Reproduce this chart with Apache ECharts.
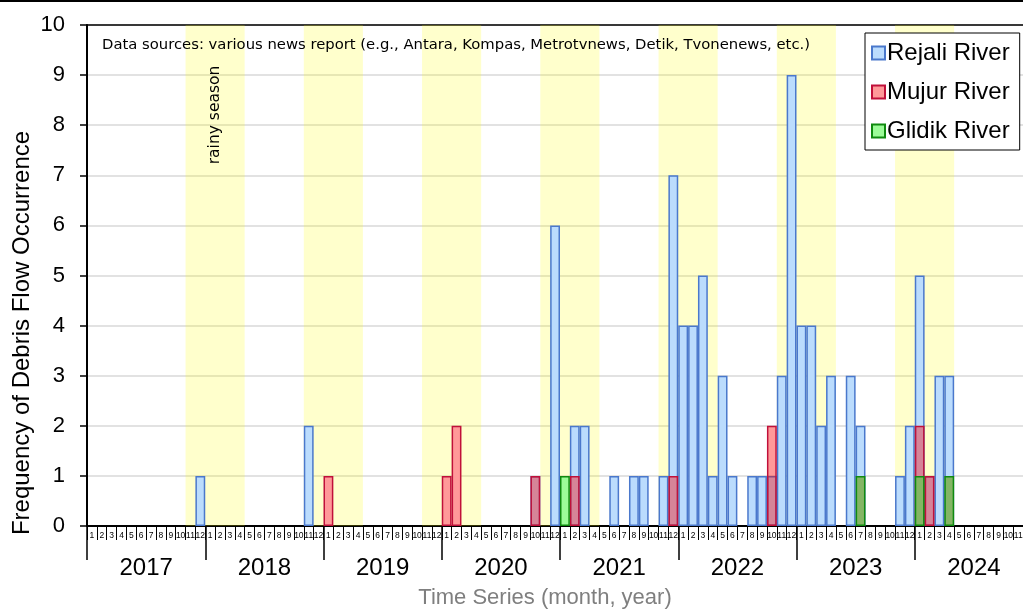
<!DOCTYPE html>
<html>
<head>
<meta charset="utf-8">
<script src="https://cdn.jsdelivr.net/npm/echarts@6/dist/echarts.min.js"></script>
<style>html,body{margin:0;padding:0;background:#fff}#c{width:1023px;height:610px}</style>
</head>
<body>
<div id="c"></div>
<script>
const monthLabels = ['1','2','3','4','5','6','7','8','9','10','11','12'];
const years = ['2017','2018','2019','2020','2021','2022','2023','2024'];
// Monthly counts Jan 2017 .. Dec 2024 (one row per year)
const rejali = [
  0,0,0,0,0,0,0,0,0,0,0,1,
  0,0,0,0,0,0,0,0,0,0,2,0,
  0,0,0,0,0,0,0,0,0,0,0,0,
  0,0,0,0,0,0,0,0,0,1,0,6,
  0,2,2,0,0,1,0,1,1,0,1,7,
  4,4,5,1,3,1,0,1,1,1,3,9,
  4,4,2,3,0,3,2,0,0,0,1,2,
  5,1,3,3,0,0,0,0,0,0,0,0
];
const mujur = [
  0,0,0,0,0,0,0,0,0,0,0,0,
  0,0,0,0,0,0,0,0,0,0,0,0,
  1,0,0,0,0,0,0,0,0,0,0,0,
  1,2,0,0,0,0,0,0,0,1,0,0,
  0,1,0,0,0,0,0,0,0,0,0,1,
  0,0,0,0,0,0,0,0,0,2,0,0,
  0,0,0,0,0,0,0,0,0,0,0,0,
  2,1,0,0,0,0,0,0,0,0,0,0
];
const glidik = [
  0,0,0,0,0,0,0,0,0,0,0,0,
  0,0,0,0,0,0,0,0,0,0,0,0,
  0,0,0,0,0,0,0,0,0,0,0,0,
  0,0,0,0,0,0,0,0,0,0,0,0,
  1,0,0,0,0,0,0,0,0,0,0,0,
  0,0,0,0,0,0,0,0,0,0,0,0,
  0,0,0,0,0,0,1,0,0,0,0,0,
  1,0,0,1,0,0,0,0,0,0,0,0
];
// rainy season bands (Nov..Apr) as [start month index, end month index)
const rainySeasons = [[10,16],[22,28],[34,40],[46,52],[58,64],[70,76],[82,88]];

const categories = [];
years.forEach(y => monthLabels.forEach(m => categories.push(m)));

const FONT = 'Liberation Sans, Arial, sans-serif';
const SFONT = 'DejaVu Sans, sans-serif';

const chart = echarts.init(document.getElementById('c'), null, {renderer:'canvas'});
const nz = v => v ? v : '-';

const option = {
  animation: false,
  backgroundColor: '#fff',
  grid: {left: 87, top: 25, width: 946, bottom: 84, containLabel: false, outerBoundsMode: 'none'},
  legend: {
    orient: 'vertical', left: 865, top: 33,
    backgroundColor: '#fff', borderColor: '#000', borderWidth: 1,
    padding: [8, 10, 7, 6], itemGap: 15, itemWidth: 13, itemHeight: 13,
    icon: 'rect',
    textStyle: {fontSize: 24, fontFamily: FONT, color: '#000', padding: [0,0,0,-3]},
    data: ['Rejali River', 'Mujur River', 'Glidik River']
  },
  xAxis: [
    {
      type: 'category', data: categories, gridIndex: 0, position: 'bottom', boundaryGap: true,
      axisLine: {show: true, lineStyle: {color: '#000', width: 2}},
      axisTick: {show: true, interval: 0, length: 14, lineStyle: {color: '#000', width: 1}},
      axisLabel: {interval: 0, fontSize: 8.5, margin: 5, color: '#000', fontFamily: FONT, hideOverlap: false},
      splitLine: {show: false}
    },
    {
      type: 'value', min: 0, max: 96, position: 'top', gridIndex: 0,
      axisLine: {show: true, onZero: false, lineStyle: {color: '#000', width: 1.5}},
      axisTick: {show: false}, axisLabel: {show: false}, splitLine: {show: false}
    },
    {
      type: 'category', data: years, position: 'bottom', gridIndex: 0, boundaryGap: true,
      axisLine: {show: false},
      axisTick: {show: true, interval: 0, length: 34, lineStyle: {color: '#000', width: 1.5}},
      axisLabel: {fontSize: 24, margin: 30, color: '#000', fontFamily: FONT}
    }
  ],
  yAxis: {
    type: 'value', min: 0, max: 10, interval: 1,
    axisLine: {show: true, lineStyle: {color: '#000', width: 2}},
    axisTick: {show: true, inside: false, length: 7, lineStyle: {color: '#000', width: 1.5}},
    axisLabel: {fontSize: 22, margin: 22, color: '#000', fontFamily: FONT},
    splitLine: {show: true, lineStyle: {color: '#d9d9d9', width: 1.5}}
  },
  series: [
    {
      type: 'line', xAxisIndex: 1, yAxisIndex: 0, data: [], z: 1, silent: true,
      markArea: {
        silent: true,
        itemStyle: {color: 'rgba(255,255,0,0.2)'},
        data: rainySeasons.map(([a, b]) => [{xAxis: a}, {xAxis: b}])
      }
    },
    {
      name: 'Rejali River', type: 'bar', xAxisIndex: 0, z: 3,
      barCategoryGap: '0%', barGap: '-100%',
      itemStyle: {color: '#bbdcfd', borderColor: '#4a78cc', borderWidth: 1.5},
      data: rejali.map(nz)
    },
    {
      name: 'Mujur River', type: 'bar', xAxisIndex: 0, z: 4,
      barCategoryGap: '0%', barGap: '-100%',
      itemStyle: {color: '#ff9999', borderColor: '#c0103a', borderWidth: 1.5},
      data: mujur.map((v, i) => v ? {value: v, itemStyle: {color: rejali[i] > 0 ? 'rgba(255,0,0,0.4)' : '#ff9999'}} : '-')
    },
    {
      name: 'Glidik River', type: 'bar', xAxisIndex: 0, z: 5,
      barCategoryGap: '0%', barGap: '-100%',
      itemStyle: {color: '#9cfc98', borderColor: '#0f8a0f', borderWidth: 1.5},
      data: glidik.map((v, i) => v ? {value: v, itemStyle: {color: rejali[i] > 0 ? '#84b564' : '#9cfc98'}} : '-')
    }
  ]
};
chart.setOption(option);

const bandMid = (rainySeasons[0][0] + rainySeasons[0][1]) / 2;
const px = chart.convertToPixel({xAxisIndex: 1}, bandMid);
chart.setOption({
  graphic: [
    {type: 'rect', shape: {x: 0, y: 0, width: 1023, height: 2}, style: {fill: '#000'}, z: 10},
    {type: 'text', left: 102, top: 38, z: 10,
     style: {text: 'Data sources: various news report (e.g., Antara, Kompas, Metrotvnews, Detik, Tvonenews, etc.)',
             fontSize: 14.8, fontFamily: SFONT, fill: '#000'}},
    {type: 'text', x: px, y: 115, rotation: Math.PI / 2, z: 10,
     style: {text: 'rainy season', fontSize: 15.5, fontFamily: SFONT, fill: '#000', align: 'center', verticalAlign: 'middle'}},
    {type: 'text', x: 22, y: 333, rotation: Math.PI / 2, z: 10,
     style: {text: 'Frequency of Debris Flow Occurrence', fontSize: 24, fontFamily: FONT, fill: '#000', align: 'center', verticalAlign: 'middle'}},
    {type: 'text', x: 545, y: 598, z: 10,
     style: {text: 'Time Series (month, year)', fontSize: 22, fontFamily: FONT, fill: '#7f7f7f', align: 'center', verticalAlign: 'middle'}}
  ]
});
</script>
</body>
</html>
